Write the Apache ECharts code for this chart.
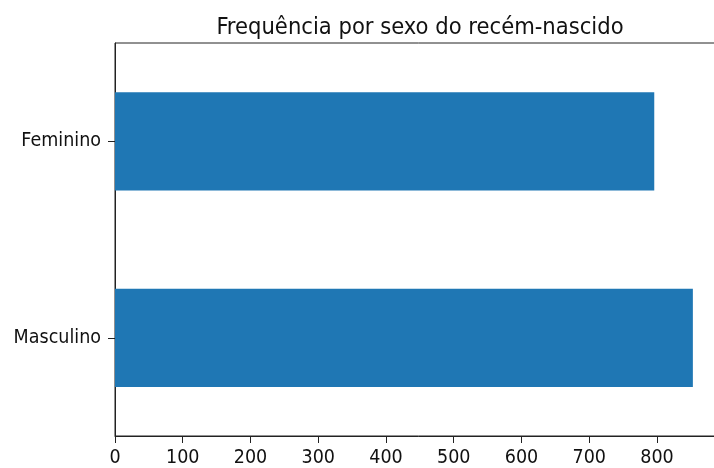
<!DOCTYPE html>
<html><head><meta charset="utf-8">
<script src="https://cdn.jsdelivr.net/npm/echarts@6/dist/echarts.min.js"></script>
<style>html,body{margin:0;padding:0;background:#fff;overflow:hidden;width:714px;height:468px}#c{width:730px;height:468px}</style>
</head><body><div id="c"></div>
<script>
const categories = ['Masculino', 'Feminino'];
const frequencies = [853, 796];
const xTicks = [0, 100, 200, 300, 400, 500, 600, 700, 800];
const titleText = 'Frequência por sexo do recém-nascido';

const FONT = 'DejaVu Sans Condensed';
const chart = echarts.init(document.getElementById('c'), null, {renderer: 'canvas'});
chart.setOption({
  animation: false,
  title: {
    text: titleText, left: 415, top: 11, textAlign: 'center',
    textStyle: {fontFamily: FONT, fontSize: 23.5, fontWeight: 'normal', color: '#111'}
  },
  grid: {left: 115, top: 43, right: 8, bottom: 32, show: true, borderColor: '#222', borderWidth: 1, backgroundColor: 'transparent'},
  xAxis: {
    type: 'value', min: 0, max: 896, interval: 100,
    splitLine: {show: false},
    axisLine: {show: true, lineStyle: {color: '#222', width: 1}},
    axisTick: {show: true, length: 7, lineStyle: {color: '#222'}},
    axisLabel: {
      margin: 12, fontFamily: FONT, fontSize: 19.5, color: '#111',
      formatter: v => xTicks.includes(v) ? String(v) : ''
    }
  },
  yAxis: {
    type: 'category', data: categories,
    axisLine: {show: true, lineStyle: {color: '#222', width: 1}},
    axisTick: {show: true, length: 7, alignWithLabel: true, lineStyle: {color: '#222'}},
    axisLabel: {margin: 14, fontFamily: FONT, fontSize: 19.5, color: '#111'}
  },
  series: [{
    type: 'bar', data: frequencies, barWidth: '50%',
    itemStyle: {color: '#1f77b4'}
  }]
});
</script></body></html>
